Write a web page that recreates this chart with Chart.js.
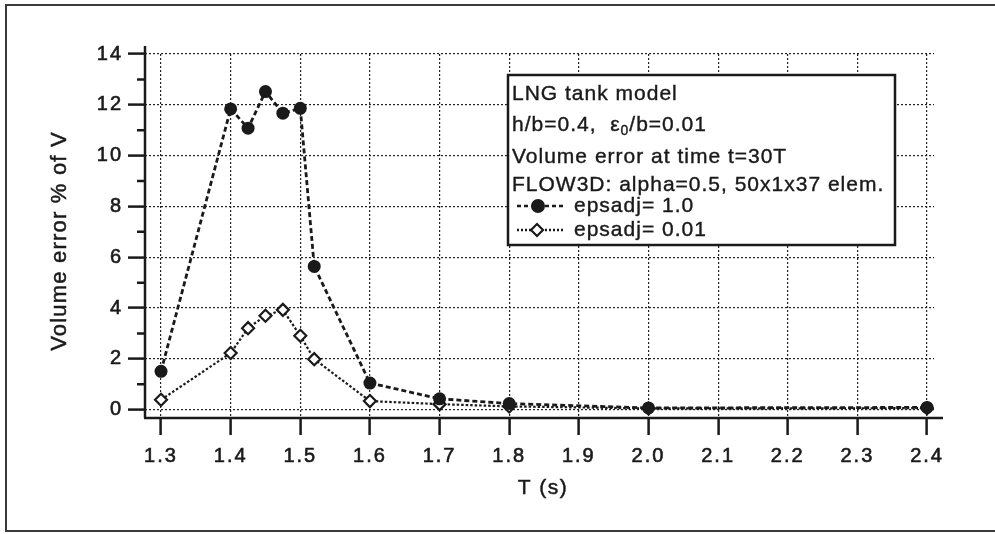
<!DOCTYPE html>
<html><head><meta charset="utf-8">
<script src="https://cdn.jsdelivr.net/npm/chart.js@4/dist/chart.umd.min.js"></script>
<style>
html,body{margin:0;padding:0;background:#fff;width:995px;height:534px;overflow:hidden}
#frame{position:absolute;left:5px;top:4px;width:995px;height:528px;border:2px solid #3a3a3a;border-right:none;box-sizing:border-box}
#wrap{position:absolute;left:0;top:0;width:995px;height:534px}
</style></head><body>
<div id="frame"></div>
<div id="wrap"><canvas id="c" width="995" height="534"></canvas></div>
<script>
// ---- data ----
const periods      = [1.3, 1.4, 1.425, 1.45, 1.475, 1.5, 1.52, 1.6, 1.7, 1.8, 2.0, 2.4];
const errEpsadj1   = [1.51, 11.84, 11.08, 12.52, 11.67, 11.86, 5.64, 1.05, 0.43, 0.24, 0.07, 0.09];
const errEpsadj001 = [0.39, 2.23, 3.21, 3.70, 3.93, 2.91, 1.99, 0.34, 0.22, 0.13, 0.05, 0.06];
const seriesLabels = ['epsadj= 1.0', 'epsadj= 0.01'];
const xTickValues  = [1.3, 1.4, 1.5, 1.6, 1.7, 1.8, 1.9, 2.0, 2.1, 2.2, 2.3, 2.4];
const yTickValues  = [0, 2, 4, 6, 8, 10, 12, 14];
const yMinorTicks  = [1, 3, 5, 7, 9, 11, 13];
const xTitle = 'T (s)';
const yTitle = 'Volume error % of V';
const legendHeader = ['LNG tank model', ['h/b=0.4,  ε', '0', '/b=0.01'], 'Volume error at time t=30T', 'FLOW3D: alpha=0.5, 50x1x37 elem.'];

const INK = '#1a1a1a';
const FONT = '"Liberation Sans", Arial, sans-serif';

const toPts = ys => periods.map((x, i) => ({x, y: ys[i]}));

function heavyText(ctx, s, x, y) { ctx.fillText(s, x, y); ctx.strokeText(s, x, y); }

const decor = {
  id: 'decor',
  beforeDraw(chart) { chart.ctx.letterSpacing = '2px'; },
  beforeDatasetsDraw(chart) {
    const {ctx, chartArea: a} = chart;
    const ys = chart.scales.y;
    ctx.save();
    ctx.letterSpacing = '0px';
    ctx.strokeStyle = INK; ctx.lineWidth = 2.5; ctx.setLineDash([]);
    ctx.beginPath();
    ctx.moveTo(a.left, a.top - 8); ctx.lineTo(a.left, a.bottom);
    ctx.moveTo(a.left - 1, a.bottom); ctx.lineTo(a.right + 9, a.bottom);
    ctx.stroke();
    ctx.beginPath();
    yMinorTicks.forEach(v => { const p = ys.getPixelForValue(v); ctx.moveTo(a.left - 8, p); ctx.lineTo(a.left, p); });
    ctx.stroke();
    ctx.restore();
  },
  afterDraw(chart) {
    const ctx = chart.ctx;
    ctx.save();
    ctx.fillStyle = INK; ctx.strokeStyle = INK; ctx.lineWidth = 0.5; ctx.setLineDash([]);
    ctx.font = '22px ' + FONT; ctx.letterSpacing = '1.2px';
    ctx.textAlign = 'center'; ctx.textBaseline = 'middle';
    ctx.save(); ctx.translate(60, 241); ctx.rotate(-Math.PI / 2); heavyText(ctx, yTitle, 0, 0); ctx.restore();
    ctx.font = '21px ' + FONT; ctx.letterSpacing = '1.5px';
    heavyText(ctx, xTitle, 543, 488);
    // legend box
    const bx = 508, by = 75, bw = 387, bh = 170;
    ctx.fillStyle = '#fff'; ctx.fillRect(bx, by, bw, bh);
    ctx.lineWidth = 2.5;
    ctx.strokeRect(bx, by, bw, bh);
    ctx.fillStyle = INK; ctx.textAlign = 'left'; ctx.textBaseline = 'middle';
    ctx.font = '21px ' + FONT; ctx.letterSpacing = '1px'; ctx.lineWidth = 0.4;
    const ly = [94, 125, 157, 185];
    legendHeader.forEach((ln, i) => {
      if (typeof ln === 'string') { heavyText(ctx, ln, 512, ly[i]); return; }
      let x = 512;
      heavyText(ctx, ln[0], x, ly[i]); x += ctx.measureText(ln[0]).width;
      ctx.font = '14px ' + FONT; heavyText(ctx, ln[1], x, ly[i] + 6); x += ctx.measureText(ln[1]).width;
      ctx.font = '21px ' + FONT; heavyText(ctx, ln[2], x, ly[i]);
    });
    const sy = [206, 230];
    heavyText(ctx, seriesLabels[0], 574, sy[0]);
    heavyText(ctx, seriesLabels[1], 574, sy[1]);
    // series samples
    ctx.lineWidth = 2.4;
    ctx.setLineDash([4, 3]);
    ctx.beginPath(); ctx.moveTo(517, sy[0]); ctx.lineTo(563, sy[0]); ctx.stroke();
    ctx.setLineDash([2, 2]);
    ctx.beginPath(); ctx.moveTo(517, sy[1]); ctx.lineTo(563, sy[1]); ctx.stroke();
    ctx.setLineDash([]);
    ctx.beginPath(); ctx.arc(538, sy[0], 7, 0, Math.PI * 2); ctx.fill();
    ctx.fillStyle = '#fff'; ctx.lineWidth = 2.2;
    ctx.beginPath(); ctx.moveTo(537, sy[1] - 6); ctx.lineTo(543, sy[1]); ctx.lineTo(537, sy[1] + 6); ctx.lineTo(531, sy[1]); ctx.closePath();
    ctx.fill(); ctx.stroke();
    ctx.restore();
    ctx.letterSpacing = '0px';
  }
};

new Chart(document.getElementById('c'), {
  type: 'scatter',
  data: {
    datasets: [
      { label: seriesLabels[0], data: toPts(errEpsadj1), showLine: true, tension: 0,
        borderColor: INK, borderWidth: 2.8, borderDash: [5, 3],
        pointStyle: 'circle', pointRadius: 6.5, pointBackgroundColor: INK, pointBorderColor: INK, pointBorderWidth: 0 },
      { label: seriesLabels[1], data: toPts(errEpsadj001), showLine: true, tension: 0,
        borderColor: INK, borderWidth: 2.2, borderDash: [2.5, 2],
        pointStyle: 'rectRot', pointRadius: 6, pointBackgroundColor: '#fff', pointBorderColor: INK, pointBorderWidth: 2.2 }
    ]
  },
  options: {
    responsive: false, animation: false, devicePixelRatio: 1,
    layout: { padding: { left: 0, top: 54, right: 61, bottom: 0 } },
    plugins: { legend: { display: false }, tooltip: { enabled: false } },
    scales: {
      x: {
        type: 'linear', min: 1.277, max: 2.41,
        afterBuildTicks: s => { s.ticks = xTickValues.map(v => ({value: v})); },
        afterFit: s => { s.height = 116; },
        grid: { color: '#222', lineWidth: 1.2, drawTicks: true, tickLength: 17, tickColor: INK, tickWidth: 2.5 },
        border: { display: false, dash: [2, 2] },
        ticks: { autoSkip: false, maxRotation: 0, padding: 9, color: INK, textStrokeColor: INK, textStrokeWidth: 0.6,
                 font: { family: FONT, size: 20 }, callback: v => Number(v).toFixed(1) }
      },
      y: {
        type: 'linear', min: -0.326, max: 14,
        afterBuildTicks: s => { s.ticks = yTickValues.map(v => ({value: v})); },
        afterFit: s => { s.width = 145; },
        grid: { color: '#222', lineWidth: 1.2, drawTicks: true, tickLength: 17, tickColor: INK, tickWidth: 2.5 },
        border: { display: false, dash: [2, 2] },
        ticks: { autoSkip: false, padding: 5, color: INK, textStrokeColor: INK, textStrokeWidth: 0.6,
                 font: { family: FONT, size: 20 }, callback: v => String(Math.round(v)) }
      }
    }
  },
  plugins: [decor]
});
</script>
</body></html>
